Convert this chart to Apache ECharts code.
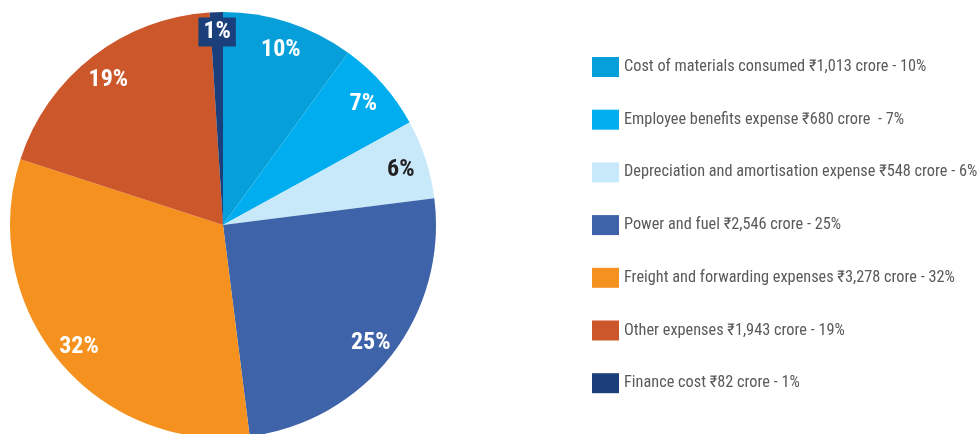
<!DOCTYPE html>
<html>
<head>
<meta charset="utf-8">
<script src="https://cdn.jsdelivr.net/npm/echarts@6/dist/echarts.min.js"></script>
<style>
  html, body { margin: 0; padding: 0; background: #fff; }
  #chart { width: 979px; height: 434px; }
</style>
</head>
<body>
<div id="chart"></div>
<script>
// 数据
const names = [
  'Cost of materials consumed',
  'Employee benefits expense',
  'Depreciation and amortisation expense',
  'Power and fuel',
  'Freight and forwarding expenses',
  'Other expenses',
  'Finance cost'
];
const amounts = ['1,013', '680', '548', '2,546', '3,278', '1,943', '82'];
const percents = [10, 7, 6, 25, 32, 19, 1];
const colors = ['#079fd9', '#00aeef', '#c7e9f9', '#3e63a8', '#f5921f', '#cb572b', '#1b3f7a'];
const labelColors = ['#fff', '#fff', '#231f20', '#fff', '#fff', '#fff', '#fff'];

const condensed = '"Roboto Condensed", "Liberation Sans Narrow", "DejaVu Sans Condensed", sans-serif';

const chart = echarts.init(document.getElementById('chart'));

const pieData = names.map((n, i) => ({
  name: n,
  value: percents[i],
  itemStyle: { color: colors[i] }
}));

// 标签用一个透明的环形，放在外圈附近
const labelData = names.map((n, i) => {
  const item = {
    name: n,
    value: percents[i],
    itemStyle: { color: 'rgba(0,0,0,0)' },
    label: { color: labelColors[i] }
  };
  if (i === names.length - 1) {
    item.label = {
      color: '#fff',
      backgroundColor: colors[i],
      padding: [3, 5, 2, 5],
      offset: [0, -6]
    };
  }
  return item;
});

chart.setOption({
  animation: false,
  legend: {
    orient: 'vertical',
    left: 587,
    top: 52,
    icon: 'rect',
    itemWidth: 27,
    itemHeight: 20,
    itemGap: 32.7,
    selectedMode: false,
    data: names,
    textStyle: {
      color: '#5a5a5a',
      fontSize: 16.3,
      fontFamily: condensed
    },
    formatter: function (name) {
      const i = names.indexOf(name);
      const gap = i === 1 ? '  - ' : ' - ';
      return name + ' \u20b9' + amounts[i] + ' crore' + gap + percents[i] + '%';
    }
  },
  series: [
    {
      type: 'pie',
      center: [223, 225],
      radius: [0, 213],
      startAngle: 90,
      clockwise: true,
      silent: true,
      label: { show: false },
      labelLine: { show: false },
      data: pieData
    },
    {
      type: 'pie',
      center: [223, 225],
      radius: [158, 210],
      startAngle: 90,
      clockwise: true,
      silent: true,
      label: {
        show: true,
        position: 'inside',
        formatter: '{c}%',
        fontSize: 24,
        fontWeight: 'bold',
        offset: [0, 3],
        fontFamily: condensed
      },
      labelLine: { show: false },
      data: labelData
    }
  ]
});
</script>
</body>
</html>
